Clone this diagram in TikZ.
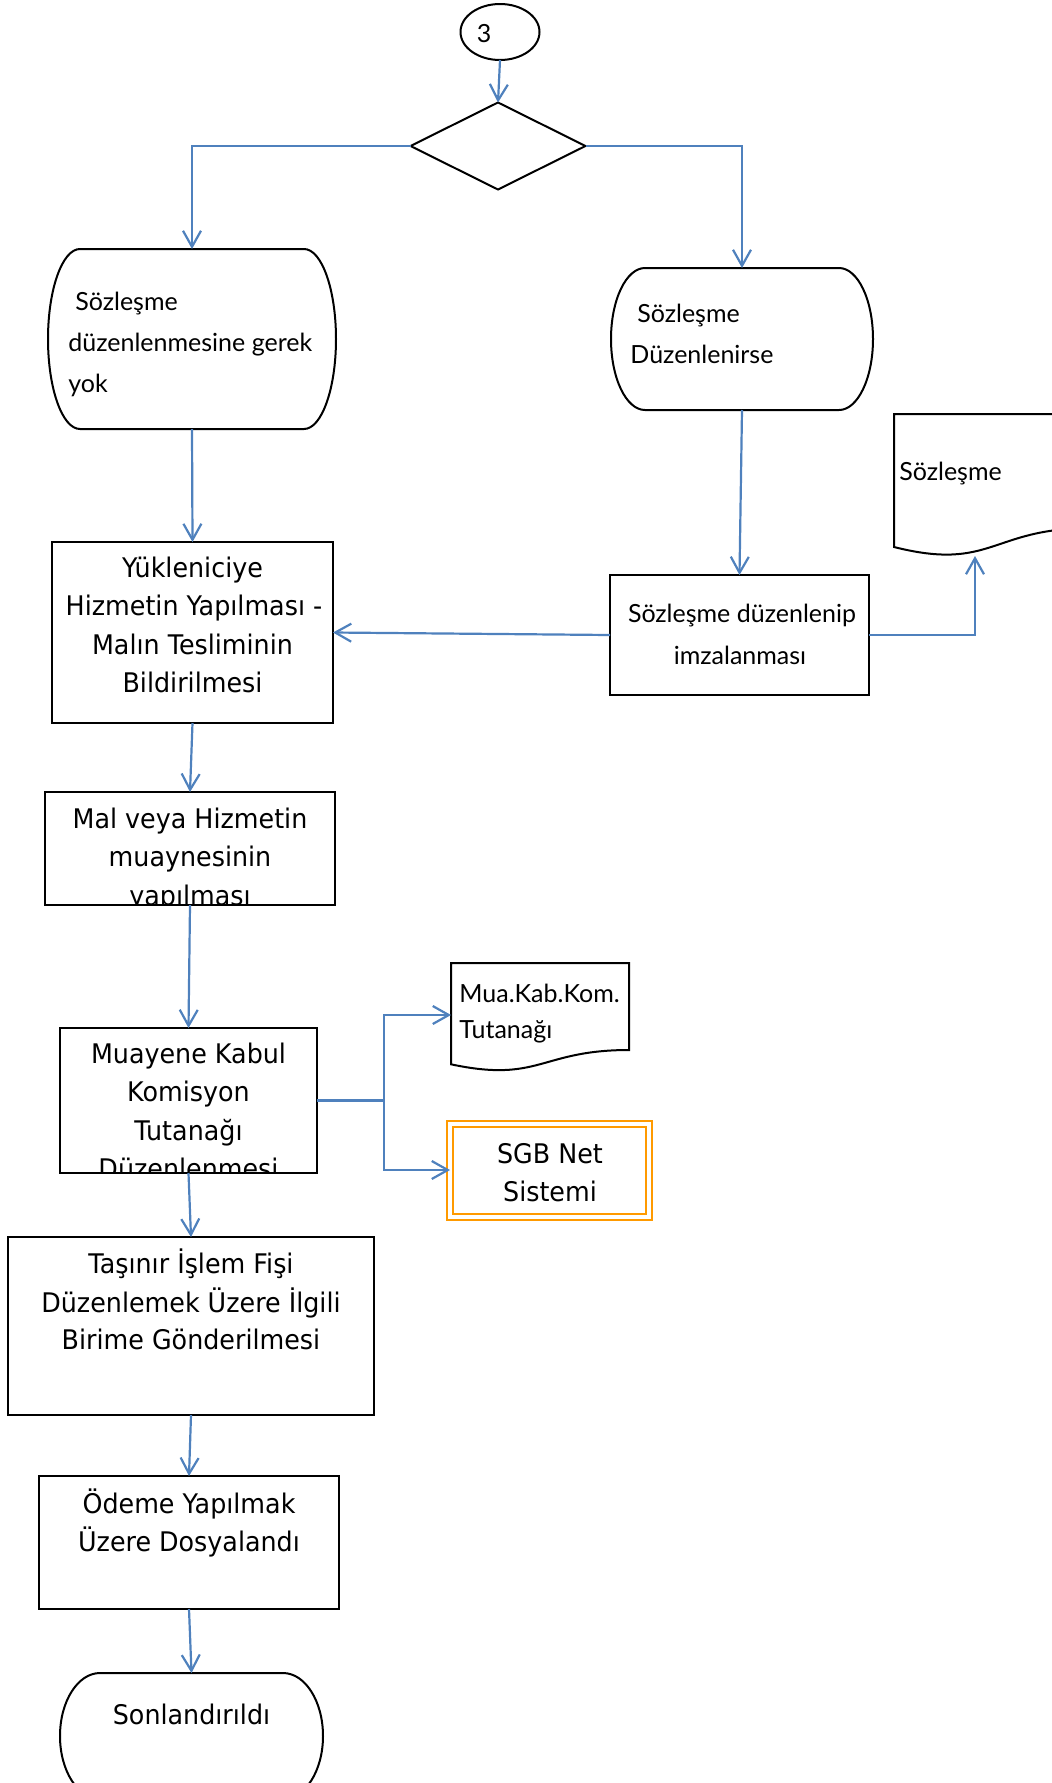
\documentclass[tikz,border=0pt]{standalone}
\usepackage{fontspec}
\newfontfamily\gillf{Lato}
\newfontfamily\tahf[FakeStretch=0.94]{DejaVu Sans}
\usetikzlibrary{arrows.meta,shapes.geometric,calc}
\definecolor{lnblue}{RGB}{79,129,189}
\definecolor{sgborange}{RGB}{255,154,0}
\tikzset{
  shapeline/.style={draw=black, line width=1pt},
  boxnode/.style={rectangle, shapeline, inner sep=0pt, outer sep=0pt},
  tbox/.style={rectangle, draw=none, inner sep=0pt, outer sep=0pt},
  arr/.style={draw=lnblue, line width=1.1pt, -{Straight Barb[length=8pt,width=9pt]}},
  conn/.style={draw=lnblue, line width=1.1pt},
  gtxt/.style={font=\gillf\fontsize{12.5pt}{15pt}\selectfont, inner sep=0pt},
  ttxt/.style={font=\tahf\fontsize{13.5pt}{16pt}\selectfont, inner sep=0pt, anchor=base},
}
\newcommand\termpath[3]{\draw[shapeline] ($(#1.north west)+(#2,0pt)$) -- ($(#1.north east)-(#2,0pt)$) arc[start angle=90,end angle=-90,x radius=#2,y radius=#3] -- ($(#1.south west)+(#2,0pt)$) arc[start angle=270,end angle=90,x radius=#2,y radius=#3] -- cycle;}
\begin{document}
\begin{tikzpicture}[x=0.5pt,y=-0.5pt]
\useasboundingbox (0,0) rectangle (1051,1783);

% start connector and decision
\node[ellipse, shapeline, minimum width=39.5pt, minimum height=28pt, inner sep=0pt, outer sep=0pt] (c3) at (500,32) {};
\node[gtxt, anchor=base] (c3t) at (484,42) {3};
\node[diamond, shapeline, minimum width=87.5pt, minimum height=43.5pt, inner sep=0pt, outer sep=0pt] (dia) at (498,146) {};

% terminators
\node[tbox, minimum width=144pt, minimum height=90pt] (t1) at (192,339) {};
\termpath{t1}{16pt}{45pt}
\node[gtxt, anchor=base west] (t1a) at (75,310) {Sözleşme};
\node[gtxt, anchor=base west] (t1b) at (68,351) {düzenlenmesine gerek};
\node[gtxt, anchor=base west] (t1c) at (68,392) {yok};

\node[tbox, minimum width=131pt, minimum height=71pt] (t2) at (742,339) {};
\termpath{t2}{17pt}{35.5pt}
\node[gtxt, anchor=base west] (t2a) at (637,322) {Sözleşme};
\node[gtxt, anchor=base west] (t2b) at (630,363) {Düzenlenirse};

% boxes
\node[boxnode, minimum width=140.5pt, minimum height=90.5pt] (yuk) at (192.5,632.5) {};
\node[ttxt] (yuk1) at (192.5,577) {Yükleniciye};
\node[ttxt] (yuk2) at (194,615.5) {Hizmetin Yapılması -};
\node[ttxt] (yuk3) at (192.5,654) {Malın Tesliminin};
\node[ttxt] (yuk4) at (192.5,692) {Bildirilmesi};

\node[boxnode, minimum width=129.5pt, minimum height=60pt] (sdi) at (739.5,635) {};
\node[gtxt, anchor=base] (sdi1) at (742,622) {Sözleşme düzenlenip};
\node[gtxt, anchor=base] (sdi2) at (740,664) {imzalanması};

% document Sözleşme
\draw[shapeline] (894,547) .. controls (991.5,571.7) and (991.5,528.2) .. (1089,528.2) -- (1089,414) -- (894,414) -- cycle;
\coordinate (sdocb) at (975,556);
\node[gtxt, anchor=base west] (sdoct) at (899,480) {Sözleşme};

\node[boxnode, minimum width=145pt, minimum height=56.5pt] (mal) at (190,848.5) {};
\begin{scope}
\clip (mal.north west) rectangle (mal.south east);
\node[ttxt] (mal1) at (190,828) {Mal veya Hizmetin};
\node[ttxt] (mal2) at (190,866.5) {muaynesinin};
\node[ttxt] (mal3) at (190,905) {yapılması};
\end{scope}

\node[boxnode, minimum width=128.5pt, minimum height=72.5pt] (mk) at (188.5,1100.5) {};
\begin{scope}
\clip (mk.north west) rectangle (mk.south east);
\node[ttxt] (mk1) at (188.5,1063) {Muayene Kabul};
\node[ttxt] (mk2) at (188.5,1101.5) {Komisyon};
\node[ttxt] (mk3) at (188.5,1140) {Tutanağı};
\node[ttxt] (mk4) at (188.5,1178.5) {Düzenlenmesi};
\end{scope}

% document Mua.Kab.Kom.
\draw[shapeline] (451,1064.3) .. controls (540,1083.2) and (540,1050) .. (629,1050) -- (629,963) -- (451,963) -- cycle;
\node[tbox, minimum width=89pt, minimum height=52pt] (muadoc) at (540,1015) {};
\node[gtxt, anchor=base west] (mua1) at (459,1002) {Mua.Kab.Kom.};
\node[gtxt, anchor=base west] (mua2) at (459,1038) {Tutanağı};

% SGB Net
\node[rectangle, draw=sgborange, double=white, double distance=2pt, line width=1pt, minimum width=99.5pt, minimum height=46.5pt, inner sep=0pt, outer sep=0pt] (sgb) at (549.5,1170) {};
\node[ttxt] (sgb1) at (550,1163) {SGB Net};
\node[ttxt] (sgb2) at (550,1201) {Sistemi};

\node[boxnode, minimum width=183pt, minimum height=89pt] (tas) at (191,1326) {};
\node[ttxt] (tas1) at (191,1273) {Taşınır İşlem Fişi};
\node[ttxt] (tas2) at (191,1312) {Düzenlemek Üzere İlgili};
\node[ttxt] (tas3) at (191,1349) {Birime Gönderilmesi};

\node[boxnode, minimum width=150pt, minimum height=66.5pt] (ode) at (189,1542.5) {};
\node[ttxt] (ode1) at (189,1513) {Ödeme Yapılmak};
\node[ttxt] (ode2) at (189,1551) {Üzere Dosyalandı};

\node[tbox, minimum width=131.5pt, minimum height=63pt] (son) at (191.5,1736) {};
\termpath{son}{20pt}{31.5pt}
\node[ttxt] (son1) at (191.5,1724) {Sonlandırıldı};

% connectors
\draw[arr] (c3.south) -- (dia.north);
\draw[arr] (dia.west) -| (t1.north);
\draw[arr] (dia.east) -| (t2.north);
\draw[arr] (t1.south) -- (yuk.north);
\draw[arr] (t2.south) -- (sdi.north);
\draw[arr] (sdi.west) -- (yuk.east);
\draw[arr] (sdi.east) -| (sdocb);
\draw[arr] (yuk.south) -- (mal.north);
\draw[arr] (mal.south) -- (mk.north);
\path (mk.east) ++(67,0) coordinate (br);
\draw[conn] (mk.east) -- (br);
\draw[arr] (br) |- (muadoc.west);
\draw[arr] (br) |- (sgb.west);
\draw[arr] (mk.south) -- (tas.north);
\draw[arr] (tas.south) -- (ode.north);
\draw[arr] (ode.south) -- (son.north);
\end{tikzpicture}
\end{document}
